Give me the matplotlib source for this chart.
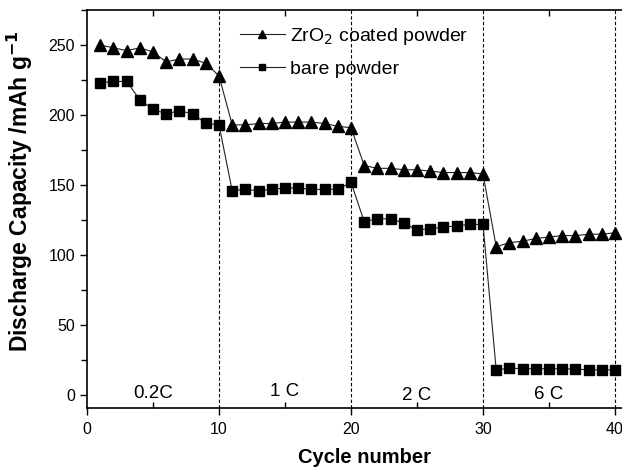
import matplotlib
matplotlib.use("Agg")
import matplotlib.pyplot as plt
from matplotlib.ticker import MultipleLocator

plt.rcParams['font.family'] = ['Liberation Sans', 'DejaVu Sans']

cycles = list(range(1, 41))
# ZrO2 coated powder
zro2 = [250, 248, 246, 248, 245, 238, 240, 240, 237, 228,
        193, 193, 194, 194, 195, 195, 195, 194, 192, 191,
        164, 162, 162, 161, 161, 160, 159, 159, 159, 158,
        106, 109, 110, 112, 113, 114, 114, 115, 115, 116]
# bare powder
bare = [223, 224, 224, 211, 204, 201, 203, 201, 194, 193,
        146, 147, 146, 147, 148, 148, 147, 147, 147, 152,
        124, 126, 126, 123, 118, 119, 120, 121, 122, 122,
        18, 19.5, 19, 19, 19, 19, 18.8, 18.2, 18.2, 18.2]

rate_pos = [5, 15, 25, 35]
rate_txt = ['0.2C', '1 C', '2 C', '6 C']
rate_y = [1, 3, 0, 0.5]
steps = [10, 20, 30, 40]

fig = plt.figure(figsize=(6.22, 4.71), dpi=100)
ax = fig.add_axes([0.1399, 0.1338, 0.8913, 0.845])

ax.plot(cycles, zro2, color='#222222', lw=0.8, marker='^', ms=8.5,
        mfc='black', mec='black', label='ZrO$_2$ coated powder')
ax.plot(cycles, bare, color='#222222', lw=0.8, marker='s', ms=7.5,
        mfc='black', mec='black', label='bare powder')

for s in steps:
    ax.axvline(s, color='black', lw=0.8, ls=(0, (3, 2)))

for x, y, t in zip(rate_pos, rate_y, rate_txt):
    ax.text(x, y, t, ha='center', va='center', fontsize=13.5)

ax.set_xlim(0, 42)
ax.set_ylim(-9, 275)
ax.xaxis.set_major_locator(MultipleLocator(10))
ax.xaxis.set_minor_locator(MultipleLocator(5))
ax.yaxis.set_major_locator(MultipleLocator(50))
ax.yaxis.set_minor_locator(MultipleLocator(25))

ax.tick_params(axis='y', which='major', direction='out', length=5, width=1, labelsize=11.5)
ax.tick_params(axis='y', which='minor', direction='out', length=4, width=1)
ax.tick_params(axis='x', which='major', direction='out', length=5, width=1, labelsize=11.5, pad=5)
ax.tick_params(axis='x', which='minor', direction='in', length=4, width=1, top=True)
ax.spines['right'].set_visible(False)
for sp in ['left', 'bottom', 'top']:
    ax.spines[sp].set_linewidth(1.2)

ax.set_xlabel('Cycle number', fontsize=14.5, fontweight='bold', labelpad=8)
ax.set_ylabel('Discharge Capacity /mAh g$^{\\mathbf{-1}}$', fontsize=16.5, fontweight='bold')
ax.yaxis.set_label_coords(-0.094, 0.545)

ax.legend(loc='upper left', bbox_to_anchor=(0.276, 0.96), frameon=False,
          fontsize=14, handlelength=2.3, handletextpad=0.25, labelspacing=0.7,
          borderpad=0, borderaxespad=0, markerscale=0.65)

fig.savefig('out.png', dpi=100)
